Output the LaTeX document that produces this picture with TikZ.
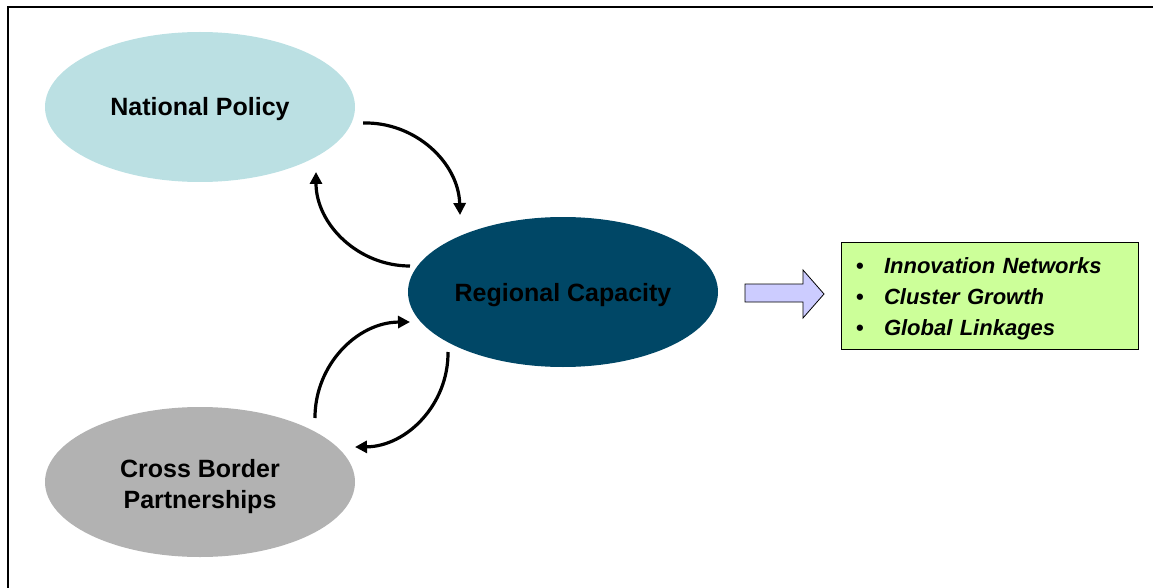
\documentclass[tikz,border=0pt]{standalone}
\usepackage{fontspec}
\setmainfont{Liberation Sans}
\usepackage{xcolor}
\usetikzlibrary{arrows.meta}
\usetikzlibrary{shapes.geometric}

\definecolor{policyblue}{HTML}{BBE0E3}
\definecolor{capacityblue}{HTML}{004766}
\definecolor{bordergrey}{HTML}{B2B2B2}
\definecolor{pushblue}{HTML}{CCCCFF}
\definecolor{resultgreen}{HTML}{CCFF99}

\tikzset{
  blob/.style={ellipse, minimum width=310pt, minimum height=150pt, inner sep=0pt,
    align=center, text height=18pt, text depth=0pt,
    font=\fontsize{25}{31}\selectfont\bfseries},
  cycle arrow/.style={line width=3.2pt, -{Triangle[length=12pt,width=12pt]}},
  outbox/.style={draw, line width=0.8pt, fill=resultgreen, minimum width=297pt,
    minimum height=107pt, inner xsep=15pt, align=left, text width=267pt,
    text height=16pt, text depth=62pt, font=\fontsize{22}{31}\selectfont}
}
\newcommand{\outitem}[1]{\makebox[28pt][l]{\normalfont\bfseries\textbullet}\textbf{\textit{#1}}}

\begin{document}
\begin{tikzpicture}[x=1pt,y=-1pt]
\useasboundingbox (0,0) rectangle (1153,588);
\begin{scope}
    % frame
    \draw[line width=2pt] (8,588) -- (8,7) -- (1153,7);
    \node[blob, fill=policyblue] (NP) at (200,107) {National Policy};
    \node[blob, fill=capacityblue] (RC) at (563,292) {Regional Capacity};
    \node[blob, fill=bordergrey, text height=57pt, text depth=5pt] (CB) at (200,482) {Cross Border\\Partnerships};
    % loop ends
    \coordinate (NPout) at (363,123);
    \coordinate (RCin) at (460,215);
    \coordinate (RCout) at (410,266);
    \coordinate (NPin) at (316,172);
    \coordinate (CBout) at (315,418);
    \coordinate (RCin') at (410,322);
    \coordinate (RCout') at (448,352);
    \coordinate (CBin) at (355,447);
    \draw[cycle arrow] (NPout) to[bend left=45] (RCin);
    \draw[cycle arrow] (RCout) to[bend left=45] (NPin);
    \draw[cycle arrow] (CBout) to[bend left=45] (RCin');
    \draw[cycle arrow] (RCout') to[bend left=45] (CBin);
    % result
    \draw[line width=0.8pt, fill=pushblue] (745,284) -- (803,284) -- (803,270) -- (824,294)
        -- (803,318) -- (803,302) -- (745,302) -- cycle;
    \node[outbox] (OUT) at (989.5,296)
        {\outitem{Innovation Networks}\\\outitem{Cluster Growth}\\\outitem{Global Linkages}};
\end{scope}
\end{tikzpicture}
\end{document}
